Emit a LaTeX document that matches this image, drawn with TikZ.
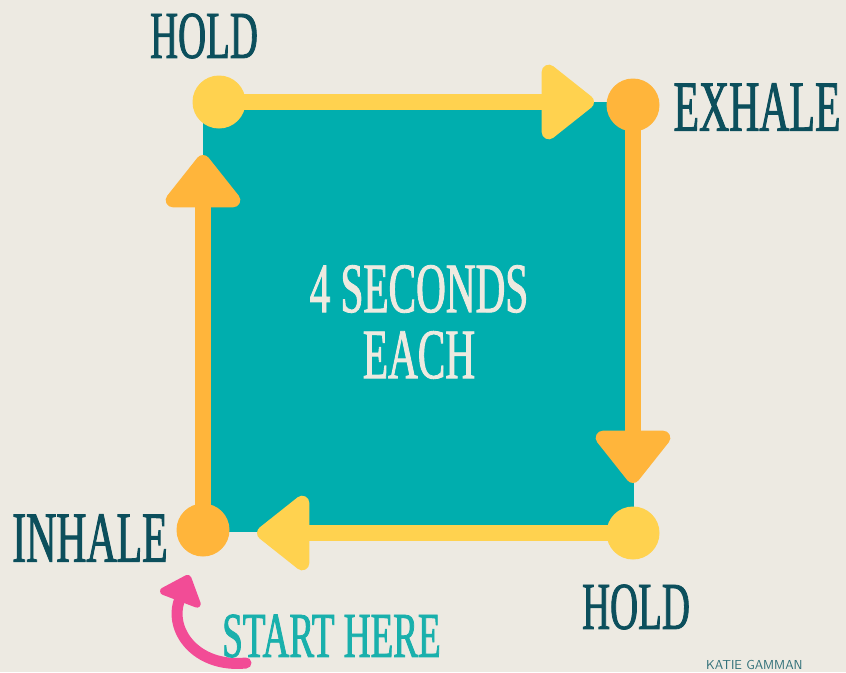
\documentclass[tikz,border=0pt]{standalone}
\usepackage{fontspec}
\usetikzlibrary{arrows.meta,positioning}
\newfontfamily\handfont[FakeStretch=0.58,FakeBold=1.2]{Liberation Serif}
\definecolor{Paper}{HTML}{EDEAE2}
\definecolor{Lagoon}{HTML}{00AEAE}
\definecolor{Sun}{HTML}{FFD24F}
\definecolor{Amber}{HTML}{FFB53B}
\definecolor{Ink}{HTML}{0C4F5C}
\definecolor{Cream}{HTML}{EEEAE0}
\definecolor{Rose}{HTML}{F24C96}
\definecolor{Aqua}{HTML}{19B0AC}
\definecolor{Slate}{HTML}{2F6F78}
\tikzset{
  phase/.style={circle, minimum size=53pt, inner sep=0pt},
  phasetext/.style={text=Ink, inner sep=0pt,
    font=\handfont\fontsize{72}{72}\selectfont},
  side/.style={line width=16pt,
    -{Triangle[length=57pt,width=86pt,round]}},
  startflow/.style={line width=11pt, draw=Rose, line cap=round,
    -{Triangle[length=30pt,width=50pt,round]}}
}
\begin{document}
\begin{tikzpicture}[x=1pt,y=-1pt]
        \useasboundingbox (0,0) rectangle (846,672);
        \fill[Paper] (0,0) rectangle (846,672);
        \node[fill=Lagoon, minimum width=431pt, minimum height=430pt,
          inner sep=0pt] (square) at (418.5,317) {};
        \node[text=Cream, align=center, inner sep=0pt,
          font=\handfont\fontsize{71}{66}\selectfont] (count) at (419,322)
          {4 SECONDS\\EACH};
        % corners of the box
        \coordinate (tlc) at (219,102);
        \coordinate (trc) at (633,105);
        \coordinate (brc) at (633,533);
        \coordinate (blc) at (203,530);
        \coordinate (toptip) at (594,102);
        \coordinate (righttip) at (633,483);
        \coordinate (bottomtip) at (257,533);
        \coordinate (lefttip) at (203,155);
        \draw[side,Sun] (tlc) -- (toptip);
        \draw[side,Amber] (trc) -- (righttip);
        \draw[side,Sun] (brc) -- (bottomtip);
        \draw[side,Amber] (blc) -- (lefttip);
        \node[phase,fill=Sun] (tl) at (tlc) {};
        \node[phase,fill=Amber] (tr) at (trc) {};
        \node[phase,fill=Sun] (br) at (brc) {};
        \node[phase,fill=Amber] (bl) at (blc) {};
        % labels
        \node[phasetext,font=\handfont\fontsize{67}{67}\selectfont]
          (holdtop) at (204,36) {HOLD};
        \node[phasetext] (exhale) at (757,107) {EXHALE};
        \node[phasetext,font=\handfont\fontsize{67}{67}\selectfont]
          (holdbottom) at (636,607) {HOLD};
        \node[phasetext] (inhale) at (90,538) {INHALE};
        % start marker
        \coordinate (pinktail) at (246,663);
        \coordinate (pinktip) at (189,575);
        \draw[startflow] (pinktail) .. controls (196,668) and (168,630) .. (pinktip);
        \node[text=Aqua, inner sep=0pt, anchor=west,
          font=\handfont\fontsize{64}{64}\selectfont] (start) at (222,636)
          {START HERE};
        \node[text=Slate, inner sep=0pt, anchor=north west,
          font=\sffamily\fontsize{13}{13}\selectfont] (brand) at (706,660)
          {KATIE GAMMAN};
      \end{tikzpicture}
\end{document}
